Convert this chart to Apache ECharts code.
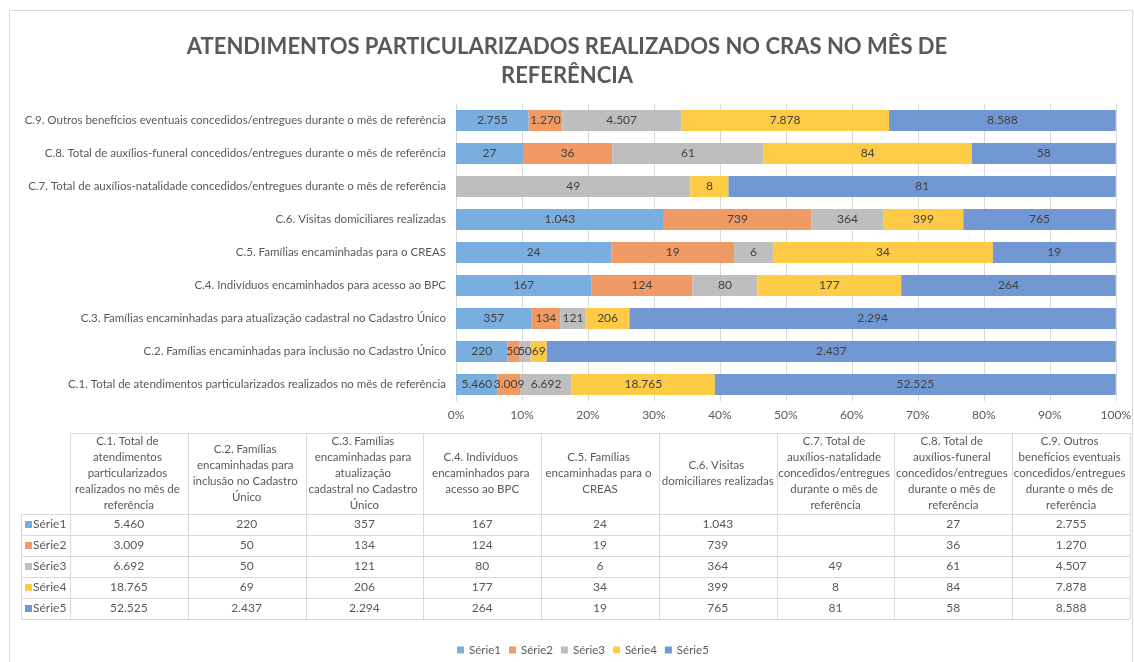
<!DOCTYPE html>
<html>
<head>
<meta charset="utf-8">
<script src="https://cdn.jsdelivr.net/npm/echarts@6/dist/echarts.min.js"></script>
<style>
  html, body { margin: 0; padding: 0; background: #ffffff; }
  #chart { width: 1134px; height: 662px; }
</style>
</head>
<body>
<div id="chart"></div>
<script>
// ===== 数据 =====
const categories = [
    'C.1. Total de atendimentos particularizados realizados no mês de referência',
    'C.2. Famílias encaminhadas para inclusão no Cadastro Único',
    'C.3. Famílias encaminhadas para atualização cadastral no Cadastro Único',
    'C.4. Indivíduos encaminhados para acesso ao BPC',
    'C.5. Famílias encaminhadas para o CREAS',
    'C.6. Visitas domiciliares realizadas',
    'C.7. Total de auxílios-natalidade concedidos/entregues durante o mês de referência',
    'C.8. Total de auxílios-funeral concedidos/entregues durante o mês de referência',
    'C.9. Outros benefícios eventuais concedidos/entregues durante o mês de referência'
];
const serie1 = [5460, 220, 357, 167, 24, 1043, null, 27, 2755];
const serie2 = [3009, 50, 134, 124, 19, 739, null, 36, 1270];
const serie3 = [6692, 50, 121, 80, 6, 364, 49, 61, 4507];
const serie4 = [18765, 69, 206, 177, 34, 399, 8, 84, 7878];
const serie5 = [52525, 2437, 2294, 264, 19, 765, 81, 58, 8588];
const seriesNames = ['Série1', 'Série2', 'Série3', 'Série4', 'Série5'];
const seriesColors = ['#79AEDF', '#F09B66', '#BEBEBE', '#FDCB45', '#7298D4'];
const titleText = 'ATENDIMENTOS PARTICULARIZADOS REALIZADOS NO CRAS NO MÊS DE\nREFERÊNCIA';

const allSeries = [serie1, serie2, serie3, serie4, serie5];
const FONT = 'Lato, "Noto Sans", sans-serif';
const TXT = '#595959';
const LINE = '#D9D9D9';

// 千分位用点
function fmt(v) {
    if (v === null || v === undefined) return '';
    return String(v).replace(/\B(?=(\d{3})+(?!\d))/g, '.');
}

// 每个类别的合计 -> 百分比堆叠
const totals = categories.map((c, i) => allSeries.reduce((s, arr) => s + (arr[i] || 0), 0));

const chart = echarts.init(document.getElementById('chart'), null, { renderer: 'canvas' });

const series = allSeries.map((arr, k) => ({
    name: seriesNames[k],
    type: 'bar',
    stack: 'total',
    barWidth: 21,
    itemStyle: { color: seriesColors[k] },
    data: arr.map((v, i) => v === null ? null : v / totals[i] * 100),
    label: {
        show: true,
        position: 'inside',
        color: '#404040',
        fontSize: 12,
        fontFamily: FONT,
        formatter: p => fmt(arr[p.dataIndex])
    },
    emphasis: { disabled: true }
}));

// ===== 底部数据表 (graphic) =====
const tblTop = 433;
const headBottom = 514;
const rowH = 21;
const keyLeft = 21;
const colLeft = 70;
const colRight = 1130;
const colW = (colRight - colLeft) / categories.length;
const tblBottom = headBottom + rowH * seriesNames.length;

const graphics = [];
const lineStyle = { stroke: LINE, lineWidth: 1 };

// 外框
graphics.push({
    type: 'rect', silent: true,
    shape: { x: 9.5, y: 10.5, width: 1123, height: 700 },
    style: { fill: null, stroke: '#D9D9D9', lineWidth: 1 }
});

// 横线
graphics.push({ type: 'line', silent: true, shape: { x1: colLeft, y1: tblTop + 0.5, x2: colRight, y2: tblTop + 0.5 }, style: lineStyle });
for (let r = 0; r <= seriesNames.length; r++) {
    const y = headBottom + r * rowH + 0.5;
    graphics.push({ type: 'line', silent: true, shape: { x1: keyLeft, y1: y, x2: colRight, y2: y }, style: lineStyle });
}
// 竖线
graphics.push({ type: 'line', silent: true, shape: { x1: keyLeft + 0.5, y1: headBottom, x2: keyLeft + 0.5, y2: tblBottom }, style: lineStyle });
for (let c = 0; c <= categories.length; c++) {
    const x = Math.round(colLeft + c * colW) + 0.5;
    graphics.push({ type: 'line', silent: true, shape: { x1: x, y1: tblTop, x2: x, y2: tblBottom }, style: lineStyle });
}
// 表头
categories.forEach((name, c) => {
    graphics.push({
        type: 'text', silent: true,
        x: colLeft + c * colW + colW / 2,
        y: (tblTop + headBottom) / 2,
        style: {
            text: name,
            width: colW - 1,
            overflow: 'break',
            fill: TXT,
            font: '11.5px ' + FONT,
            lineHeight: 16,
            align: 'center',
            verticalAlign: 'middle'
        }
    });
});
// 行标签 + 数值
seriesNames.forEach((name, r) => {
    const yc = headBottom + r * rowH + rowH / 2;
    graphics.push({
        type: 'rect', silent: true,
        shape: { x: keyLeft + 4, y: yc - 3.5, width: 7, height: 7 },
        style: { fill: seriesColors[r] }
    });
    graphics.push({
        type: 'text', silent: true,
        x: keyLeft + 12, y: yc,
        style: { text: name, fill: TXT, font: '12px ' + FONT, verticalAlign: 'middle', align: 'left' }
    });
    allSeries[r].forEach((v, c) => {
        graphics.push({
            type: 'text', silent: true,
            x: colLeft + c * colW + colW / 2, y: yc,
            style: { text: fmt(v), fill: TXT, font: '12px ' + FONT, verticalAlign: 'middle', align: 'center' }
        });
    });
});

const option = {
    backgroundColor: '#ffffff',
    animation: false,
    title: {
        text: titleText,
        left: 'center',
        top: 27,
        textStyle: { color: TXT, fontSize: 22, fontWeight: 'bold', fontFamily: FONT, lineHeight: 29 }
    },
    legend: {
        data: seriesNames,
        left: 452,
        top: 639,
        icon: 'rect',
        itemWidth: 7,
        itemHeight: 7,
        itemGap: 8,
        textStyle: { color: TXT, fontSize: 11.5, fontFamily: FONT }
    },
    grid: { left: 456, right: 15, top: 104, height: 297 },
    xAxis: {
        type: 'value',
        min: 0,
        max: 100,
        interval: 10,
        axisLine: { show: false },
        axisTick: { show: false },
        splitLine: { lineStyle: { color: LINE } },
        axisLabel: { color: TXT, fontSize: 12, fontFamily: FONT, margin: 8, formatter: '{value}%' }
    },
    yAxis: {
        type: 'category',
        data: categories,
        axisLine: { show: true, lineStyle: { color: LINE } },
        axisTick: { show: false },
        axisLabel: { color: TXT, fontSize: 11.5, fontFamily: FONT, margin: 10 }
    },
    series: series,
    graphic: graphics
};

chart.setOption(option);
</script>
</body>
</html>
